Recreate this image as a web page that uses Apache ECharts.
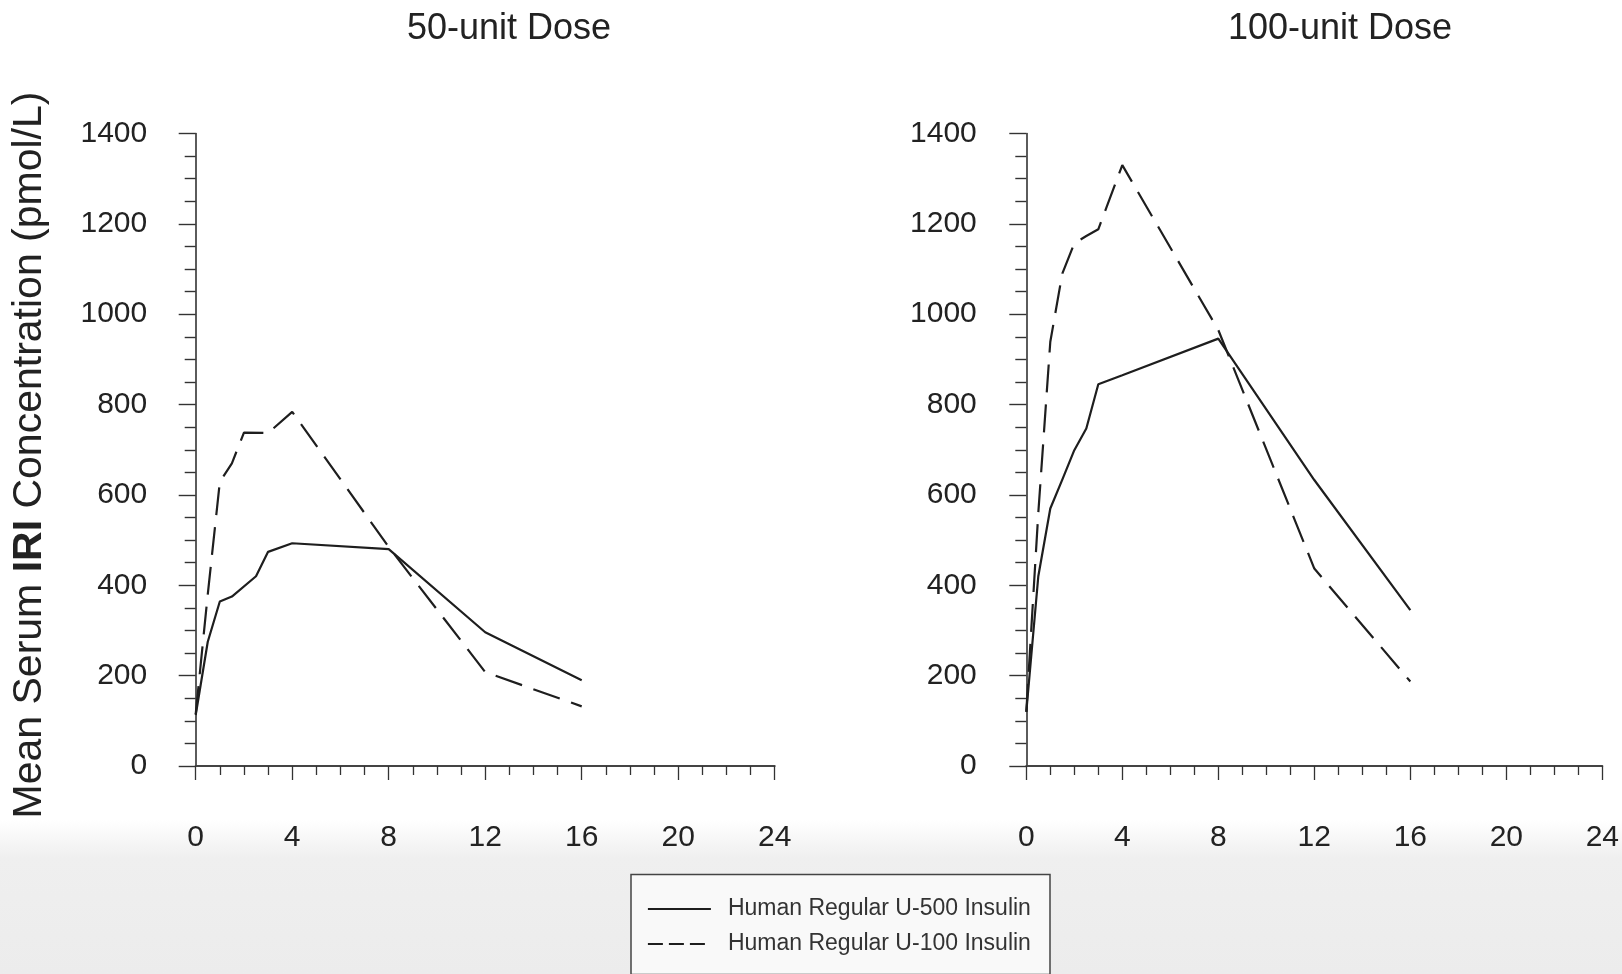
<!DOCTYPE html>
<html>
<head>
<meta charset="utf-8">
<script src="https://cdn.jsdelivr.net/npm/echarts@6/dist/echarts.min.js"></script>
<style>
html,body{margin:0;padding:0;background:#fff;}
#chart{width:1622px;height:974px;}
</style>
</head>
<body>
<div id="chart"></div>
<script>
// ---- data (hours after injection, mean serum IRI pmol/L) ----
var panelTitles = ['50-unit Dose', '100-unit Dose'];
var seriesNames = ['Human Regular U-500 Insulin', 'Human Regular U-100 Insulin'];

var hoursL500 = [0, 0.5, 1, 1.5, 2.5, 3, 4, 8, 12, 16];
var valsL500  = [113, 275, 364, 375, 420, 474, 493, 480, 296, 190];
var hoursL100 = [0, 0.5, 1, 1.5, 2, 3, 4, 8, 12, 16];
var valsL100  = [115, 380, 629, 670, 738, 737, 784, 485, 208, 132];

var hoursR500 = [0, 0.5, 1, 1.5, 2, 2.5, 3, 4, 8, 12, 16];
var valsR500  = [120, 420, 570, 634, 699, 747, 845, 865, 946, 633, 345];
var hoursR100 = [0, 0.5, 1, 1.5, 2, 2.5, 3, 4, 8, 12, 16];
var valsR100  = [120, 560, 939, 1090, 1157, 1173, 1188, 1330, 965, 437, 187];

function zip(xs, ys){ return xs.map(function(x,i){ return [x, ys[i]]; }); }

var FONT = '"Liberation Sans", Arial, Helvetica, sans-serif';
var INK = '#222';
var DASH = [28, 12];

function xAxisDef(gi){
  return {
    type:'value', gridIndex:gi, min:0, max:24, interval:4, offset:20,
    axisLine:{show:true, lineStyle:{color:'#444', width:2}},
    axisTick:{show:true, inside:false, length:14, lineStyle:{color:'#333', width:1.3}},
    minorTick:{show:true, splitNumber:4, length:9, lineStyle:{color:'#333', width:1.3}},
    splitLine:{show:false}, minorSplitLine:{show:false},
    axisLabel:{fontSize:30, color:INK, fontFamily:FONT, margin:37,
      formatter:function(v){ return String(v); }}
  };
}
function yAxisDef(gi, off){
  return {
    type:'value', gridIndex:gi, min:0, max:1400, interval:200, offset:off,
    axisLine:{show:true, lineStyle:{color:'#333', width:1.6}},
    axisTick:{show:true, inside:false, length:17, lineStyle:{color:'#333', width:1.4}},
    minorTick:{show:true, splitNumber:4, length:11, lineStyle:{color:'#333', width:1.4}},
    splitLine:{show:false}, minorSplitLine:{show:false},
    axisLabel:{fontSize:30, color:INK, fontFamily:FONT, margin:32,
      formatter:function(v){ return String(v); }}
  };
}
function lineSeries(name, gi, data, dashed){
  return {
    name:name, type:'line', xAxisIndex:gi, yAxisIndex:gi, data:data,
    symbol:'none', smooth:false, animation:false,
    lineStyle:{color:'#1e1e1e', width:2.2, type: dashed ? DASH : 'solid'},
    itemStyle:{color:'#1e1e1e'}
  };
}

var chart = echarts.init(document.getElementById('chart'), null, {renderer:'canvas'});
chart.setOption({
  backgroundColor:'#fff',
  animation:false,
  title:[
    {text:panelTitles[0], left:509, top:11, textAlign:'center', padding:0,
     textStyle:{fontSize:36, fontWeight:'normal', color:INK, fontFamily:FONT}},
    {text:panelTitles[1], left:1340, top:11, textAlign:'center', padding:0,
     textStyle:{fontSize:36, fontWeight:'normal', color:INK, fontFamily:FONT}}
  ],
  grid:[
    {left:195.7, top:133.5, width:579, height:632.5},
    {left:1026.3, top:133.5, width:578, height:632.5}
  ],
  xAxis:[xAxisDef(0), xAxisDef(1)],
  yAxis:[yAxisDef(0, 16.5), yAxisDef(1, 17.5)],
  legend:{
    orient:'vertical', left:631, top:879,
    padding:[18, 10, 2, 16], itemGap:11,
    itemWidth:63, itemHeight:14,
    textStyle:{fontSize:23, lineHeight:24, color:'#333', fontFamily:FONT, padding:[0,0,0,12]},
    itemStyle:{opacity:0},
    data:[
      {name:seriesNames[0], itemStyle:{opacity:0}, lineStyle:{type:'solid', width:1.8}},
      {name:seriesNames[1], itemStyle:{opacity:0}, lineStyle:{type:[15,6], width:1.8}}
    ]
  },
  graphic:[
    {type:'rect', z:-10, silent:true, shape:{x:0, y:820, width:1622, height:154},
     style:{fill:new echarts.graphic.LinearGradient(0,0,0,1,[
       {offset:0, color:'rgba(238,238,238,0)'},
       {offset:0.25, color:'#efefef'},
       {offset:1, color:'#ececec'}])}},
    {type:'rect', z:-5, silent:true, shape:{x:631, y:874.5, width:419, height:100},
     style:{fill:'#f9f9f9', stroke:'#444', lineWidth:1.5}},
    {type:'text', silent:true, x:30, y:455, rotation:Math.PI/2,
     style:{
       text:'{a|Mean Serum }{b|IRI}{a| Concentration (pmol/L)}',
       textAlign:'center', textVerticalAlign:'middle',
       rich:{
         a:{fontSize:41, fontFamily:FONT, fill:INK, color:INK},
         b:{fontSize:41, fontFamily:FONT, fontWeight:'bold', fill:INK, color:INK}
       }
     }}
  ],
  series:[
    lineSeries(seriesNames[0], 0, zip(hoursL500, valsL500), false),
    lineSeries(seriesNames[1], 0, zip(hoursL100, valsL100), true),
    lineSeries(seriesNames[0], 1, zip(hoursR500, valsR500), false),
    lineSeries(seriesNames[1], 1, zip(hoursR100, valsR100), true)
  ]
});
</script>
</body>
</html>
